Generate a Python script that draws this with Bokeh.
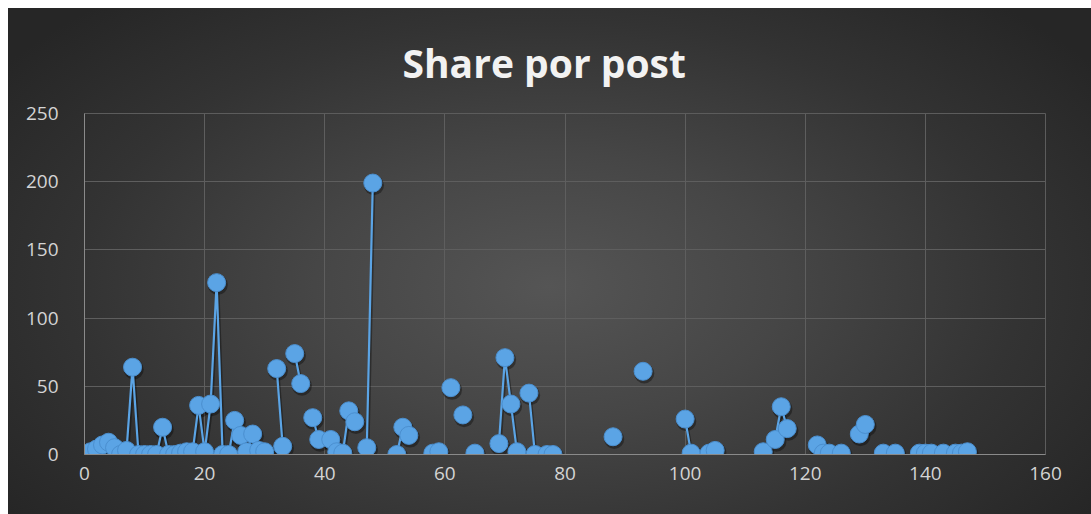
import math

from bokeh.embed import file_html
from bokeh.models import Range1d, FixedTicker, ColumnDataSource
from bokeh.plotting import figure
from bokeh.resources import INLINE

# Shares per post (post number -> share count); posts not listed have no value
posts = [1, 2, 3, 4, 5, 6, 7, 8, 9, 10, 11, 12, 13, 14, 15, 16, 17, 18, 19, 20,
         21, 22, 23, 24, 25, 26, 27, 28, 29, 30, 32, 33, 35, 36, 38, 39, 41, 42,
         43, 44, 45, 47, 48, 52, 53, 54, 58, 59, 61, 63, 65, 69, 70, 71, 72, 74,
         75, 77, 78, 88, 93, 100, 101, 104, 105, 113, 115, 116, 117, 122, 123,
         124, 126, 129, 130, 133, 135, 139, 140, 141, 143, 145, 146, 147]
shares = [2, 4, 7, 9, 5, 0, 3, 64, 0, 0, 0, 0, 20, 0, 0, 1, 2, 2, 36, 2,
          37, 126, 0, 0, 25, 14, 2, 15, 3, 2, 63, 6, 74, 52, 27, 11, 11, 2,
          1, 32, 24, 5, 199, 0, 20, 14, 1, 2, 49, 29, 1, 8, 71, 37, 2, 45,
          0, 0, 0, 13, 61, 26, 1, 1, 3, 2, 11, 35, 19, 7, 1,
          1, 1, 15, 22, 1, 1, 1, 1, 1, 1, 1, 1, 2]

x_ticks = [0, 20, 40, 60, 80, 100, 120, 140, 160]
y_ticks = [0, 50, 100, 150, 200, 250]
title_text = "Share por post"

# Line path: break the line wherever post numbers are not consecutive
line_x, line_y = [], []
for i, (px, sy) in enumerate(zip(posts, shares)):
    if i > 0 and px - posts[i - 1] > 1:
        line_x.append(math.nan)
        line_y.append(math.nan)
    line_x.append(px)
    line_y.append(sy)

BLUE = "#5ba4e5"
BLUE_EDGE = "#4b8fcf"

p = figure(width=1083, height=506, output_backend="svg", toolbar_location=None,
           x_range=Range1d(0, 160), y_range=Range1d(0, 250),
           min_border_left=76, min_border_right=46, min_border_top=105,
           min_border_bottom=60, title=title_text)
p.margin = (8, 0, 0, 8)
p.styles = {"background": "radial-gradient(ellipse 62% 75% at 50% 55%, #555555 0%, #464646 35%, #333333 70%, #262626 100%)"}
p.border_fill_alpha = 0
p.background_fill_alpha = 0
p.outline_line_color = "#5c5c5c"

p.title.align = "left"
p.title.offset = 318
p.title.text_font = "Open Sans"
p.title.text_font_style = "bold"
p.title.text_font_size = "39px"
p.title.text_color = "#f2f2f2"
p.title.standoff = 49

for ax, ticks in ((p.xaxis, x_ticks), (p.yaxis, y_ticks)):
    ax.ticker = FixedTicker(ticks=ticks)
    ax.axis_line_color = "#8a8a8a"
    ax.major_tick_line_color = None
    ax.minor_tick_line_color = None
    ax.major_label_text_color = "#d4d4d4"
    ax.major_label_text_font = "Open Sans"
    ax.major_label_text_font_size = "19px"
p.xaxis.major_label_standoff = 6
p.yaxis.major_label_standoff = 20

p.xgrid.ticker = FixedTicker(ticks=x_ticks)
p.ygrid.ticker = FixedTicker(ticks=y_ticks)
p.grid.grid_line_color = "#5e5e5e"
p.grid.grid_line_width = 1

src = ColumnDataSource(data=dict(x=posts, y=shares))
shadow = ColumnDataSource(data=dict(x=[v + 0.2 for v in posts],
                                    y=[v - 1.6 for v in shares]))

# soft drop shadow under line and markers
p.line([v + 0.2 if not math.isnan(v) else v for v in line_x],
       [v - 1.6 if not math.isnan(v) else v for v in line_y],
       line_color="black", line_alpha=0.35, line_width=3)
p.scatter("x", "y", source=shadow, size=20, fill_color="black",
          fill_alpha=0.35, line_color=None)

p.line(line_x, line_y, line_color=BLUE, line_width=2.2)
p.scatter("x", "y", source=src, size=18, fill_color=BLUE,
          line_color=BLUE_EDGE, line_width=1)

open("out.html", "w").write(file_html(p, INLINE))
